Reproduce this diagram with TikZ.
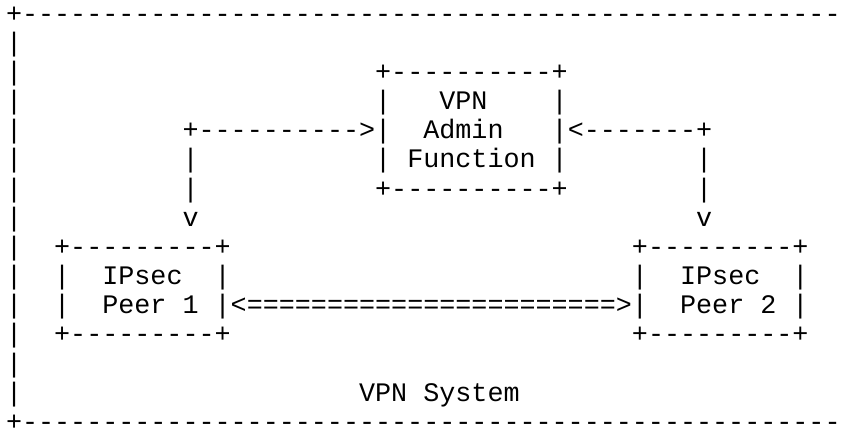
\documentclass[tikz,border=0pt]{standalone}
\usepackage{fontspec}
\setmonofont{Liberation Mono}
\tikzset{
  ch/.style={anchor=base west, inner sep=0pt, outer sep=0pt, text=black,
    font=\ttfamily\fontsize{13.375pt}{14.6pt}\selectfont}
}
% place a run of characters at grid row #1, column #2
\newcommand\gcell[3]{\node[ch] (t#1x#2) at ({3pt+#2*8.025pt},{-11.1pt-#1*14.575pt}) {#3};}
\begin{document}
\begin{tikzpicture}
\useasboundingbox (0,0) rectangle (420.5pt,-214pt);
% outer frame
\gcell{0}{0}{+---------------------------------------------------}
\foreach \r in {1,...,13} {\gcell{\r}{0}{|}}
\gcell{14}{0}{+---------------------------------------------------}
% VPN Admin Function box
\gcell{2}{23}{+----------+}
\gcell{3}{23}{|}\gcell{3}{27}{VPN}\gcell{3}{34}{|}
\gcell{4}{11}{+---------->|}\gcell{4}{26}{Admin}\gcell{4}{34}{|<-------+}
\gcell{5}{11}{|}\gcell{5}{23}{|}\gcell{5}{25}{Function}\gcell{5}{34}{|}\gcell{5}{43}{|}
\gcell{6}{11}{|}\gcell{6}{23}{+----------+}\gcell{6}{43}{|}
\gcell{7}{11}{v}\gcell{7}{43}{v}
% IPsec peers
\gcell{8}{3}{+---------+}\gcell{8}{39}{+---------+}
\gcell{9}{3}{|}\gcell{9}{6}{IPsec}\gcell{9}{13}{|}\gcell{9}{39}{|}\gcell{9}{42}{IPsec}\gcell{9}{49}{|}
\gcell{10}{3}{|}\gcell{10}{6}{Peer 1}\gcell{10}{13}{|<=======================>|}\gcell{10}{42}{Peer 2}\gcell{10}{49}{|}
\gcell{11}{3}{+---------+}\gcell{11}{39}{+---------+}
% caption
\gcell{13}{22}{VPN System}
\end{tikzpicture}
\end{document}
